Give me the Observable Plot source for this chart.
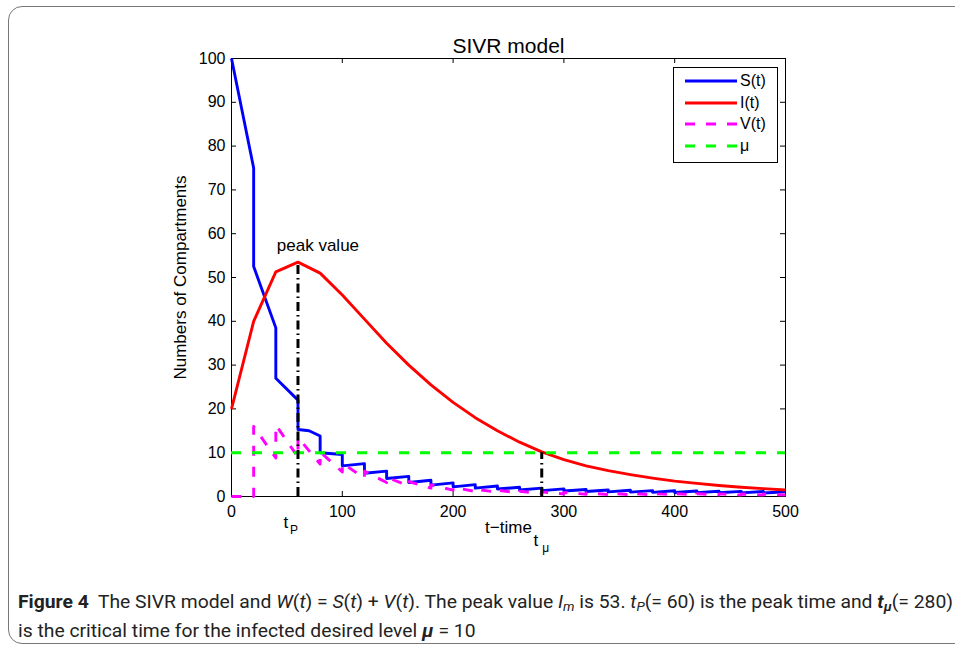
<!DOCTYPE html>
<html><head><meta charset="utf-8">
<script src="https://cdn.jsdelivr.net/npm/d3@7"></script>
<script src="https://cdn.jsdelivr.net/npm/@observablehq/plot@0.6"></script>
<style>
body{margin:0;background:#fff;}
#wrap{position:relative;width:955px;height:651px;overflow:hidden;font-family:"Liberation Sans",Arial,sans-serif;background:#fff;}
#frame{position:absolute;left:8px;top:6px;width:980px;height:638px;border:1px solid #777;border-radius:14px;box-sizing:border-box;}
#chart{position:absolute;left:0;top:0;}
#legend{position:absolute;left:673px;top:67px;width:105px;height:96px;border:1px solid #000;background:#fff;box-sizing:border-box;}
#legend .row{position:absolute;left:0;height:20px;width:100%;}
#legend svg{position:absolute;left:10px;top:0;}
#legend span{position:absolute;left:66px;top:0px;font-size:16px;line-height:19px;color:#000;}
.cap{position:absolute;left:18px;white-space:nowrap;font-family:"Liberation Sans Narrow","Roboto",sans-serif;font-size:18px;color:#222;transform-origin:0 50%;}
.cap b{font-weight:bold;}
sub{font-size:70%;vertical-align:-0.25em;line-height:0;}
</style>
</head><body>
<div id="wrap">
  <div id="frame"></div>
  <div id="chart"></div>
  <div id="legend"></div>
  <div class="cap" id="cap1" style="top:591px;"><b>Figure 4</b>&nbsp; The SIVR model and <i>W</i>(<i>t</i>) = <i>S</i>(<i>t</i>) + <i>V</i>(<i>t</i>). The peak value <i>I<sub>m</sub></i> is 53. <i>t<sub>P</sub></i>(= 60) is the peak time and <b><i>t<sub>μ</sub></i></b>(= 280)</div>
  <div class="cap" id="cap2" style="top:620px;">is the critical time for the infected desired level <b><i>μ</i></b> = 10</div>
</div>
<script>
// ---- data ----
const sTime  = [0,20,20,40,40,60,60,70,80,80,100,100,120,120,140,140,160,160,180,180,200,200,220,220,240,240,260,260,280,280,300,300,320,320,340,340,360,360,380,380,400,400,420,420,440,440,460,460,480,480,500];
const sValue = [100,75,52.5,38.5,27,22,15.3,15.0,13.8,10,9.6,7.0,7.5,5.3,5.8,4.1,4.6,3.2,3.7,2.6,3.1,2.2,2.7,1.9,2.4,1.7,2.1,1.5,1.9,1.35,1.75,1.25,1.6,1.15,1.5,1.05,1.42,1.0,1.35,0.95,1.3,0.9,1.25,0.88,1.2,0.85,1.17,0.83,1.14,0.8,1.1];

const iTime  = [0,20,40,60,80,100,120,140,160,180,200,220,240,260,280,300,320,340,360,380,400,420,440,460,480,500];
const iValue = [20,40,51.3,53.5,51,46,40.5,35,30,25.5,21.5,18,15,12.4,10.2,8.4,7,5.9,5.0,4.2,3.5,3.0,2.5,2.1,1.8,1.5];

const vTime  = [0,20,20,40,40,60,60,80,80,100,100,120,120,140,140,160,160,180,180,200,200,220,220,240,240,260,260,280,280,300,300,320,320,340,340,360,360,380,380,400,400,420,420,440,440,460,460,480,480,500];
const vValue = [0,0,16,8.8,16.3,9.0,13.5,7.4,10.2,5.6,7.6,4.2,5.8,3.2,4.4,2.4,3.4,1.9,2.65,1.46,2.1,1.15,1.7,0.94,1.43,0.79,1.21,0.67,1.06,0.58,0.93,0.51,0.83,0.46,0.77,0.42,0.71,0.39,0.67,0.37,0.64,0.35,0.62,0.34,0.6,0.33,0.58,0.32,0.56,0.31];

const mu = 10;
const tPeak = 60, peakValue = 53;
const tMu = 280;
const xTicks = [0,100,200,300,400,500];
const yTicks = [0,10,20,30,40,50,60,70,80,90,100];
const seriesNames = ["S(t)","I(t)","V(t)","μ"];
const seriesColors = ["#0000ff","#ff0000","#ff00ff","#00ff00"];
const seriesDash = [null,null,"10,11","10,11"];
const peakLabel = {t: 78, v: 57.2, text: "peak value"};

const S = sTime.map((t,i)=>({t, v:sValue[i]}));
const I = iTime.map((t,i)=>({t, v:iValue[i]}));
const V = vTime.map((t,i)=>({t, v:vValue[i]}));
const guides = [{t:tPeak, v:peakValue},{t:tMu, v:mu}];

const W = 955, H = 560, mL = 231, mR = 170, mT = 58, mB = 64;
const innerW = W - mL - mR, innerH = H - mT - mB;
const tick = 5;
const font = "'Liberation Sans', Arial, Helvetica, sans-serif";

const chart = Plot.plot({
  width: W, height: H,
  marginLeft: mL, marginRight: mR, marginTop: mT, marginBottom: mB,
  style: {fontFamily: font, fontSize: "16px", color: "#000", background: "transparent", overflow: "visible"},
  x: {domain: [0,500]},
  y: {domain: [0,100]},
  marks: [
    Plot.frame({stroke:"#000", strokeWidth: 1}),
    Plot.tickY(yTicks, {y: d=>d, insetRight: innerW - tick, stroke:"#000"}),
    Plot.tickY(yTicks, {y: d=>d, insetLeft: innerW - tick, stroke:"#000"}),
    Plot.tickX(xTicks, {x: d=>d, insetTop: innerH - tick, stroke:"#000"}),
    Plot.tickX(xTicks, {x: d=>d, insetBottom: innerH - tick, stroke:"#000"}),
    Plot.line(S, {x:"t", y:"v", stroke: seriesColors[0], strokeWidth: 2.9, strokeLinejoin:"round", strokeLinecap:"butt"}),
    Plot.line(I, {x:"t", y:"v", stroke: seriesColors[1], strokeWidth: 2.9, strokeLinejoin:"round", strokeLinecap:"butt"}),
    Plot.line(V, {x:"t", y:"v", stroke: seriesColors[2], strokeWidth: 2.9, strokeDasharray: seriesDash[2], strokeLinecap:"butt"}),
    Plot.ruleY([mu], {stroke: seriesColors[3], strokeWidth: 2.9, strokeDasharray: seriesDash[3], strokeLinecap:"butt"}),
    Plot.ruleX(guides, {x:"t", y1: 0, y2:"v", stroke:"#000", strokeWidth: 3, strokeDasharray:"9,4,1.5,4", strokeLinecap:"butt"}),
    Plot.axisX(xTicks, {tickSize: 0, tickPadding: 9, label: null, fontSize: 16}),
    Plot.axisY(yTicks, {tickSize: 0, tickPadding: 6, label: null, fontSize: 16}),
    Plot.text(["SIVR model"], {frameAnchor:"top", dy: -20, fontSize: 21}),
    Plot.text(["Numbers of Compartments"], {frameAnchor:"left", textAnchor:"middle", dx: -51, rotate: -90, fontSize: 17}),
    Plot.text(["t−time"], {frameAnchor:"bottom", dy: 36, fontSize: 17}),
    Plot.text([peakLabel], {x:"t", y:"v", text:"text", fontSize: 17}),
    Plot.text([{t:tPeak}], {x:"t", y: ()=>0, text: ()=>"t", dx: -12, dy: 26, fontSize: 17}),
    Plot.text([{t:tPeak}], {x:"t", y: ()=>0, text: ()=>"P", dx: -4, dy: 34, fontSize: 12}),
    Plot.text([{t:tMu}], {x:"t", y: ()=>0, text: ()=>"t", dx: -6, dy: 44, fontSize: 17}),
    Plot.text([{t:tMu}], {x:"t", y: ()=>0, text: ()=>"μ", dx: 4, dy: 52, fontSize: 12})
  ]
});
document.getElementById("chart").appendChild(chart);

// legend
const leg = document.getElementById("legend");
const rowTops = [3, 24.5, 46, 67.5];
seriesNames.forEach((name, i) => {
  const row = document.createElement("div");
  row.className = "row";
  row.style.top = rowTops[i] + "px";
  const dash = seriesDash[i] ? `stroke-dasharray="${seriesDash[i]}"` : "";
  row.innerHTML = `<svg width="54" height="20"><line x1="1" x2="53" y1="10" y2="10" stroke="${seriesColors[i]}" stroke-width="2.9" ${dash}/></svg><span>${name}</span>`;
  leg.appendChild(row);
});

// fit caption line 1 to its width in the reference
const c1 = document.getElementById("cap1"), c2 = document.getElementById("cap2");
const target = 935;
const w1 = c1.getBoundingClientRect().width;
const k = target / w1;
c1.style.transform = `scaleX(${k})`;
c2.style.transform = `scaleX(${k})`;
</script>
</body></html>
